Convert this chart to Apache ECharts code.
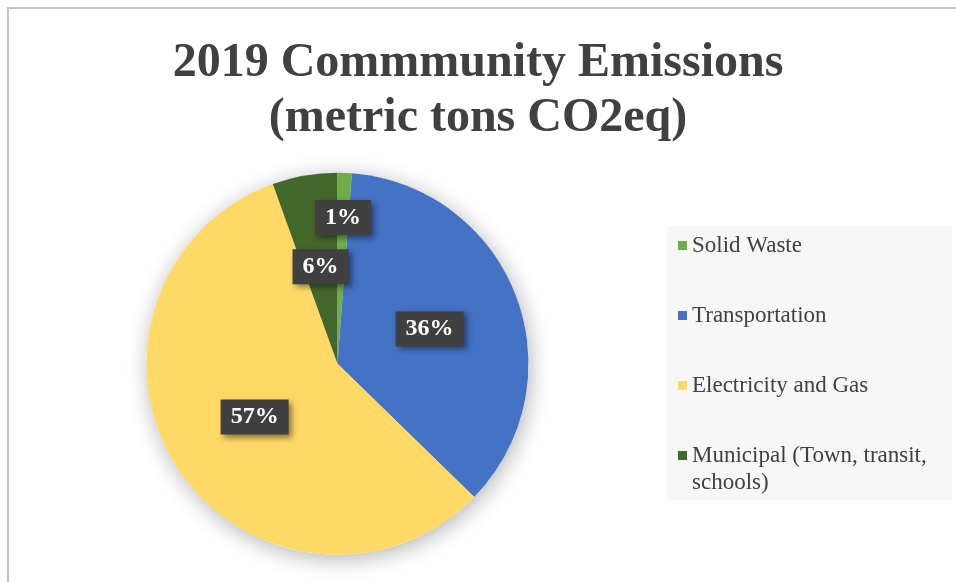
<!DOCTYPE html>
<html>
<head>
<meta charset="utf-8">
<script src="https://cdn.jsdelivr.net/npm/echarts@6/dist/echarts.min.js"></script>
<style>
html,body{margin:0;padding:0;background:#fff;}
#chart{width:956px;height:582px;}
</style>
</head>
<body>
<div id="chart"></div>
<script>
// ---- data ----
const categories = ['Solid Waste', 'Transportation', 'Electricity and Gas', 'Municipal (Town, transit, schools)'];
const shares = [1.2, 36.1, 57.2, 5.5];
const colors = ['#70AD47', '#4472C4', '#FFD966', '#43682B'];
const titleLines = ['2019 Commmunity Emissions', '(metric tons CO2eq)'];

const SERIF = '"Liberation Serif", "Times New Roman", "DejaVu Serif", serif';
const chart = echarts.init(document.getElementById('chart'));

const pieData = categories.map((n, i) => ({ name: n, value: shares[i], itemStyle: { color: colors[i] } }));

const labelStyle = {
  color: '#ffffff',
  fontFamily: SERIF,
  fontWeight: 'bold',
  fontSize: 24,
  backgroundColor: '#404040',
  padding: [6, 10, 5, 10],
  shadowColor: 'rgba(0,0,0,0.45)',
  shadowBlur: 6,
  shadowOffsetX: 3,
  shadowOffsetY: 3,
  formatter: p => Math.round(p.percent) + '%'
};

const center = ['35.3%', '62.5%'];
const R = 191;

const legendText = {
  fontFamily: SERIF,
  fontSize: 23,
  lineHeight: 27,
  color: '#404040'
};
const legendCommon = {
  orient: 'vertical',
  left: 678,
  itemWidth: 9,
  itemHeight: 9,
  itemGap: 43,
  icon: 'rect',
  padding: 0,
  selectedMode: false,
  textStyle: legendText
};

chart.setOption({
  backgroundColor: '#ffffff',
  animation: false,
  title: {
    text: titleLines.join('\n'),
    left: 'center',
    top: 36,
    padding: [0, 0, 0, 22],
    textStyle: {
      fontFamily: SERIF,
      fontWeight: 'bold',
      fontSize: 48,
      lineHeight: 55,
      color: '#404040'
    }
  },
  legend: [
    Object.assign({}, legendCommon, { top: 232, data: categories.slice(0, 3) }),
    Object.assign({}, legendCommon, {
      top: 415,
      data: categories.slice(3),
      formatter: n => ' \n' + n.replace(', schools', ',\nschools')
    })
  ],
  graphic: [
    {
      type: 'polyline',
      silent: true,
      shape: { points: [[8, 600], [8, 8], [980, 8]] },
      style: { stroke: '#c4c4c4', lineWidth: 2, fill: null }
    },
    {
      type: 'rect',
      silent: true,
      z: -1,
      shape: { x: 667, y: 226, width: 285, height: 274 },
      style: { fill: '#f7f7f7' }
    }
  ],
  series: [
    {
      // soft shadow disc beneath the pie
      type: 'pie',
      silent: true,
      center: center,
      radius: [0, R],
      z: 1,
      label: { show: false },
      labelLine: { show: false },
      data: [{ name: '', value: 1, itemStyle: { color: '#ffffff', shadowBlur: 22, shadowColor: 'rgba(0,0,0,0.3)', shadowOffsetX: 2, shadowOffsetY: 4 } }]
    },
    {
      type: 'pie',
      center: center,
      radius: [0, R],
      startAngle: 90,
      clockwise: true,
      z: 2,
      silent: true,
      avoidLabelOverlap: false,
      label: Object.assign({ show: true, position: 'inside' }, labelStyle),
      labelLine: { show: false },
      data: pieData.map((d, i) => i === 0 ? Object.assign({}, d, { label: { show: false } }) : d)
    },
    {
      // transparent twin used only to place the small-slice label further out
      type: 'pie',
      center: center,
      radius: [0, R * 1.5],
      startAngle: 90,
      clockwise: true,
      z: 3,
      silent: true,
      avoidLabelOverlap: false,
      labelLine: { show: false },
      label: Object.assign({ show: true, position: 'inside' }, labelStyle),
      data: pieData.map((d, i) => ({
        name: d.name, value: d.value,
        itemStyle: { color: 'rgba(0,0,0,0)' },
        label: { show: i === 0 }
      }))
    }
  ]
});
</script>
</body>
</html>
